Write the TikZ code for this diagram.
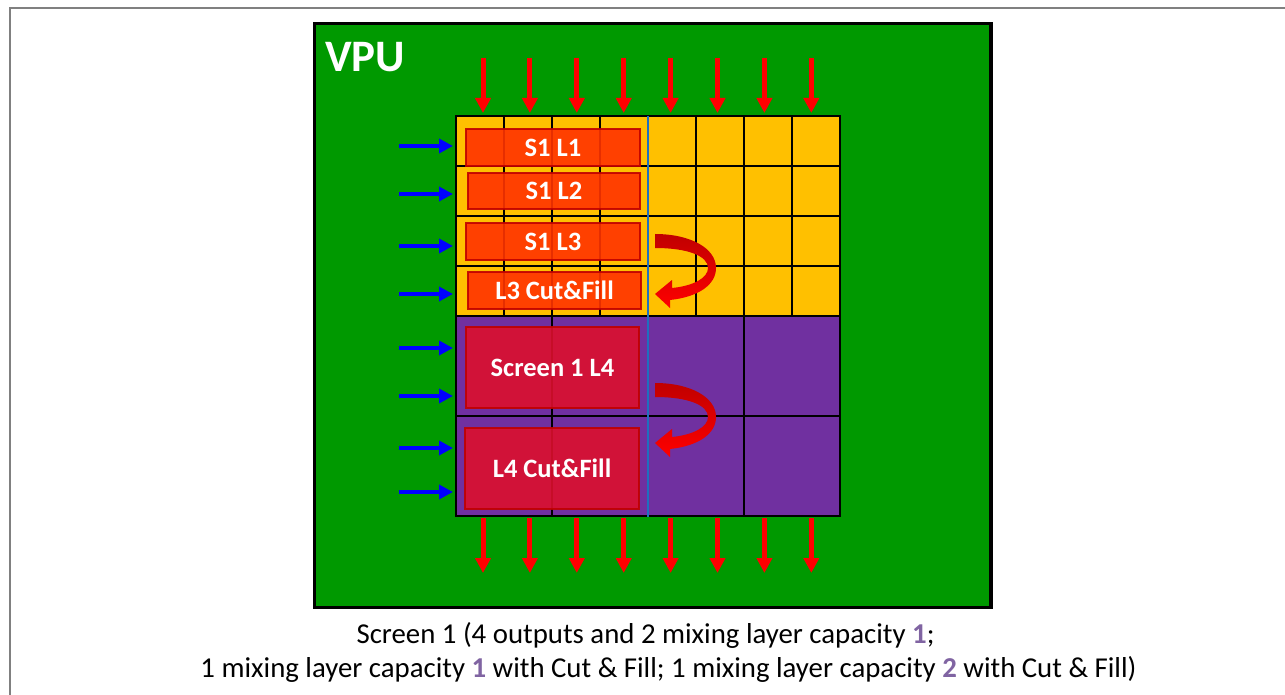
\documentclass[tikz,border=0pt]{standalone}
\usepackage{fontspec}
\setmainfont{Carlito}
\usetikzlibrary{arrows.meta}
\definecolor{vgreen}{HTML}{009900}
\definecolor{gyellow}{HTML}{FFC000}
\definecolor{gpurple}{HTML}{7030A0}
\definecolor{boxred}{HTML}{FF3300}
\definecolor{boxcrimson}{HTML}{DC0F2D}
\definecolor{boxborder}{HTML}{C00000}
\definecolor{arrred}{HTML}{FF0000}
\definecolor{arrblue}{HTML}{0000FF}
\definecolor{splitblue}{HTML}{1F70BF}
\definecolor{capnum}{HTML}{8064A2}
\definecolor{framegray}{HTML}{808080}
\begin{document}
\begin{tikzpicture}[x=1pt,y=-1pt,
  vpubox/.style={draw=black, line width=3.3, fill=vgreen, inner sep=0},
  boxtxt/.style={font=\bfseries\fontsize{26.5}{30}\selectfont, text=white},
  redbox/.style={draw=boxborder, line width=2, fill=boxred, fill opacity=0.9, draw opacity=0.9, text opacity=1, inner sep=0, boxtxt},
  crimsonbox/.style={redbox, fill=boxcrimson},
  redarrow/.style={draw=arrred, line width=5, -{Triangle[length=15pt,width=15pt]}},
  bluearrow/.style={draw=arrblue, line width=4.5, -{Triangle[length=14pt,width=14pt]}},
  thincell/.style={draw=black, line width=1.5},
  thickcell/.style={draw=black, line width=2.8},
  curvearrow/.style={top color=boxborder, bottom color=arrred, draw=none},
  captxt/.style={font=\fontsize{28.8}{34}\selectfont, text=black, inner sep=0}
]
\useasboundingbox (0,0) rectangle (1285,695);
% frame
\draw[framegray, line width=2] (9.5,695) -- (9.5,8.5) -- (1285,8.5);
% VPU block
\node[vpubox, minimum width=676.5, minimum height=584.4] (vpu) at (652.75,315.5) {};
\node[anchor=base west, text=white, font=\bfseries\fontsize{45}{45}\selectfont, inner sep=0] (vpulbl) at (325,72) {VPU};
% grid fills
\fill[gyellow] (456,116) rectangle (840,316);
\fill[gpurple] (456,316) rectangle (840,516);
% yellow cell lines
\foreach \x in {504,552,600,696,744,792} \draw[thincell] (\x,116) -- (\x,316);
\foreach \y in {166,216,266} \draw[thincell] (456,\y) -- (840,\y);
% purple cell lines
\foreach \x in {552,744} \draw[thickcell] (\x,316) -- (\x,516);
\foreach \y in {316,416} \draw[thickcell] (456,\y) -- (840,\y);
\draw[thickcell] (456,116) rectangle (840,516);
% layer boxes
\node[redbox, minimum width=174, minimum height=37] (l1) at (553,147.5) {S1 L1};
\node[redbox, minimum width=172, minimum height=36] (l2) at (554,191) {S1 L2};
\node[redbox, minimum width=174, minimum height=37] (l3) at (553,241.5) {S1 L3};
\node[redbox, minimum width=173, minimum height=37] (l3cf) at (554.5,290.5) {L3 Cut\&Fill};
\node[crimsonbox, minimum width=173, minimum height=81] (l4) at (552.5,367.5) {Screen 1 L4};
\node[crimsonbox, minimum width=174, minimum height=81] (l4cf) at (552,468.5) {L4 Cut\&Fill};
% split line
\coordinate (splittop) at (648,116);
\coordinate (splitbot) at (648,517);
\draw[splitblue, line width=2.8] (splittop) -- (splitbot);
% curved arrows
\foreach \dy in {0,149} {
  \shade[curvearrow, yshift=-\dy pt]
    (655,234) .. controls (690,234) and (716,248) .. (716,268)
    .. controls (716,285) and (698,297) .. (670,300)
    -- (670,308) -- (655,294) -- (672,280) -- (672,288)
    .. controls (693,286) and (708,278) .. (708,268)
    .. controls (708,256) and (688,248) .. (655,248) -- cycle;
}
% input/output arrows
\foreach \i in {0,...,7} {
  \pgfmathsetmacro{\ax}{483+46.9*\i}
  \coordinate (tin\i) at (\ax,58);
  \coordinate (tout\i) at (\ax,113);
  \coordinate (bin\i) at (\ax,518);
  \coordinate (bout\i) at (\ax,573);
  \draw[redarrow] (tin\i) -- (tout\i);
  \draw[redarrow] (bin\i) -- (bout\i);
}
\foreach \y [count=\i] in {146,194,246,294,348,396,448,492} {
  \coordinate (lin\i) at (399,\y);
  \coordinate (lout\i) at (453,\y);
  \draw[bluearrow] (lin\i) -- (lout\i);
}
% caption
\node[captxt, anchor=base] (cap1) at (645.5,643) {Screen 1 (4 outputs and 2 mixing layer capacity {\color{capnum}\bfseries 1};};
\node[captxt, anchor=base] (cap2) at (668.5,677) {1 mixing layer capacity {\color{capnum}\bfseries 1} with Cut \& Fill; 1 mixing layer capacity {\color{capnum}\bfseries 2} with Cut \& Fill)};
\end{tikzpicture}
\end{document}
